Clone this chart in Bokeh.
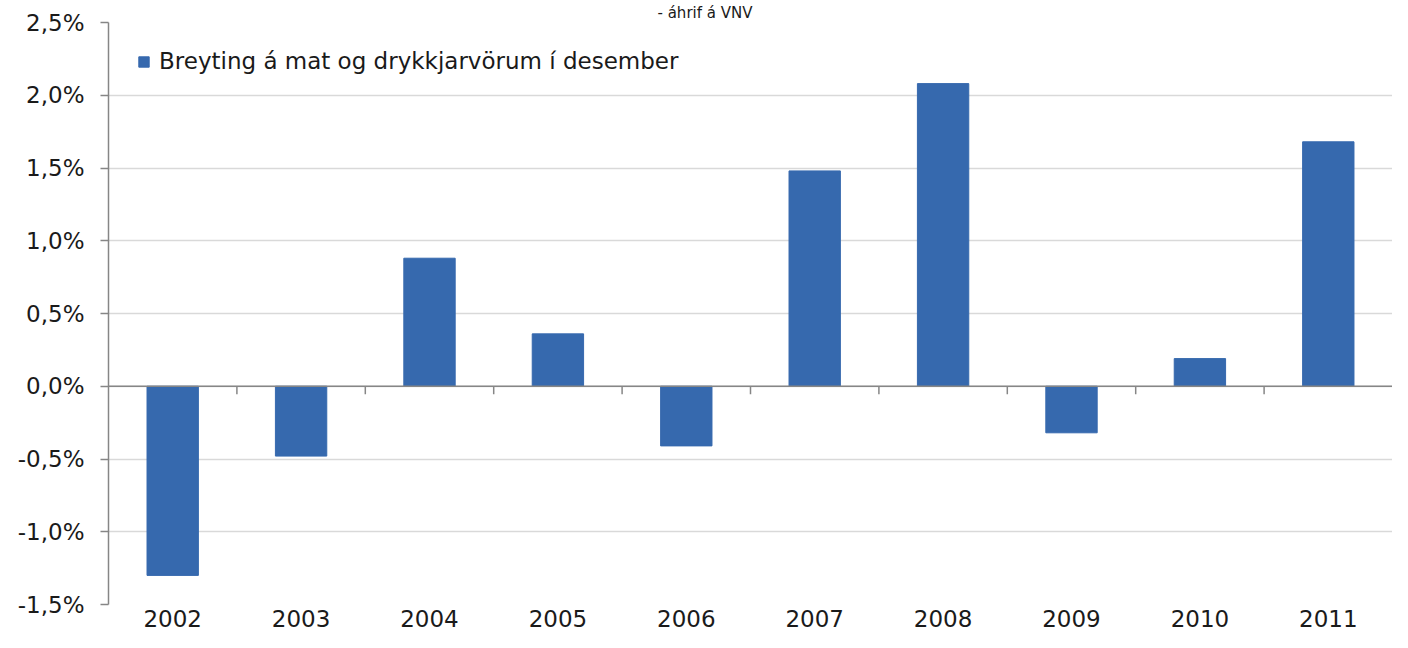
from bokeh.plotting import figure
from bokeh.models import (ColumnDataSource, FixedTicker, Span, Legend, LegendItem,
                          Range1d)
from bokeh.embed import file_html
from bokeh.resources import INLINE

years = ["2002", "2003", "2004", "2005", "2006", "2007", "2008", "2009", "2010", "2011"]
values = [-1.30, -0.48, 0.88, 0.36, -0.41, 1.48, 2.08, -0.32, 0.19, 1.68]
y_ticks = [-1.5, -1.0, -0.5, 0.0, 0.5, 1.0, 1.5, 2.0, 2.5]
y_tick_labels = ["-1,5%", "-1,0%", "-0,5%", "0,0%", "0,5%", "1,0%", "1,5%", "2,0%", "2,5%"]
series_name = "Breyting á mat og drykkjarvörum í desember"
subtitle = "- áhrif á VNV"

FONT = "DejaVu Sans"
FS = "23px"
TXT = "#1a1a1a"
BLUE = "#3669AE"

n = len(years)
xs = [i + 0.5 for i in range(n)]
src = ColumnDataSource(dict(x=xs, top=values, year=years))

p = figure(width=1392, height=632, output_backend="svg", toolbar_location=None,
           x_range=Range1d(0, n), y_range=Range1d(y_ticks[0], y_ticks[-1]),
           min_border_left=108, min_border_right=0, min_border_top=0,
           min_border_bottom=28, title=subtitle)
p.outline_line_color = None
p.background_fill_color = "white"
p.border_fill_color = "white"

p.title.align = "left"
p.title.offset = 549
p.title.standoff = 2
p.title.text_font = FONT
p.title.text_font_size = "15px"
p.title.text_font_style = "normal"
p.title.text_color = TXT

r = p.vbar(x="x", top="top", bottom=0, width=0.4, source=src,
           fill_color=BLUE, line_color=BLUE)

# y axis
p.yaxis.ticker = FixedTicker(ticks=y_ticks)
p.yaxis.major_label_overrides = {t: l for t, l in zip(y_ticks, y_tick_labels)}
p.yaxis.axis_line_color = "#868686"
p.yaxis.axis_line_width = 1.5
p.yaxis.major_tick_line_color = "#868686"
p.yaxis.major_tick_line_width = 1.5
p.yaxis.major_tick_out = 8
p.yaxis.major_tick_in = 0
p.yaxis.minor_tick_line_color = None
p.yaxis.major_label_standoff = 16
p.yaxis.major_label_text_font = FONT
p.yaxis.major_label_text_font_size = FS
p.yaxis.major_label_text_color = TXT

# x axis (labels only)
p.xaxis.ticker = FixedTicker(ticks=xs)
p.xaxis.major_label_overrides = {x: y for x, y in zip(xs, years)}
p.xaxis.axis_line_color = None
p.xaxis.major_tick_line_color = None
p.xaxis.minor_tick_line_color = None
p.xaxis.major_tick_out = 0
p.xaxis.major_tick_in = 0
p.xaxis.major_label_standoff = 5
p.xaxis.major_label_text_font = FONT
p.xaxis.major_label_text_font_size = FS
p.xaxis.major_label_text_color = TXT

p.xgrid.grid_line_color = None
p.ygrid.ticker = FixedTicker(ticks=y_ticks)
p.ygrid.grid_line_color = "#d9d9d9"
p.ygrid.grid_line_width = 1.5

# zero axis line with category-boundary ticks
p.add_layout(Span(location=0, dimension="width", line_color="#868686", line_width=1.5))
bounds = list(range(1, n))
p.segment(x0=bounds, x1=bounds, y0=[0] * len(bounds), y1=[-0.055] * len(bounds),
          line_color="#868686", line_width=1.5)

legend = Legend(items=[LegendItem(label=series_name, renderers=[r])],
                location=(29, 530), margin=0, padding=0,
                glyph_width=13, glyph_height=13, label_standoff=9,
                label_text_font=FONT, label_text_font_size=FS,
                label_text_color=TXT, border_line_color=None,
                background_fill_alpha=0)
p.add_layout(legend)

open("out.html", "w").write(file_html(p, INLINE))
